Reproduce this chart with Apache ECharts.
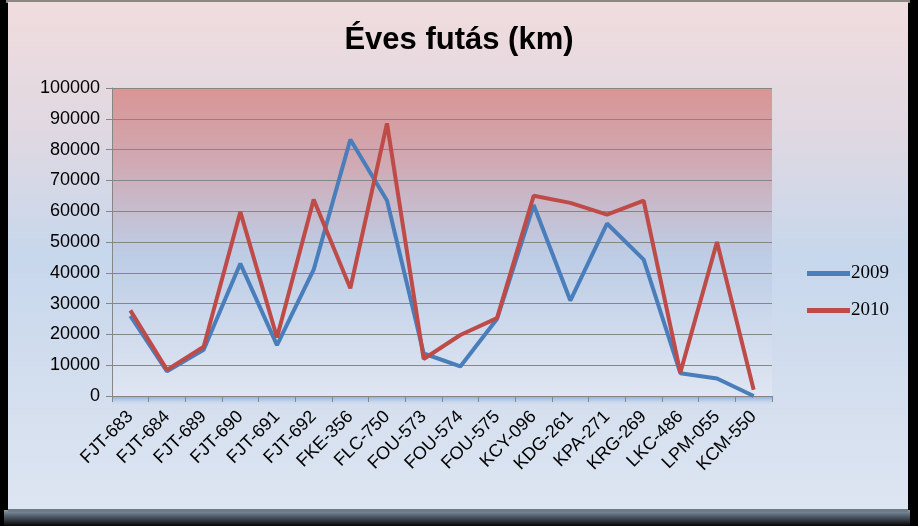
<!DOCTYPE html>
<html><head><meta charset="utf-8">
<script src="https://cdn.jsdelivr.net/npm/echarts@6/dist/echarts.min.js"></script>
<style>html,body{margin:0;padding:0;background:#000;}#c{width:918px;height:526px;}</style>
</head><body><div id="c"></div>
<script>
const categories = ['FJT-683','FJT-684','FJT-689','FJT-690','FJT-691','FJT-692','FKE-356','FLC-750','FOU-573','FOU-574','FOU-575','KCY-096','KDG-261','KPA-271','KRG-269','LKC-486','LPM-055','KCM-550'];
const values2009 = [26000, 8000, 15000, 43000, 16500, 41000, 83300, 63500, 13800, 9600, 25000, 62000, 31000, 56000, 44300, 7400, 5700, 0];
const values2010 = [27800, 8500, 16000, 59800, 19000, 63800, 35000, 88500, 12000, 19800, 25300, 65000, 62700, 58900, 63400, 7600, 50000, 2000];
const seriesNames = ['2009', '2010'];
const yTicks = {min: 0, max: 100000, interval: 10000};

const chart = echarts.init(document.getElementById('c'), null, {renderer: 'canvas'});
const lin = (stops) => new echarts.graphic.LinearGradient(0, 0, 0, 1, stops.map(s => ({offset: s[0], color: s[1]})));

chart.setOption({
  backgroundColor: '#000',
  animation: false,
  graphic: [
    {type: 'rect', z: -10, shape: {x: 6, y: 0, width: 904, height: 3}, style: {fill: '#8c8782'}},
    {type: 'rect', z: -10, shape: {x: 4, y: 510, width: 906, height: 16}, style: {fill: lin([[0,'#8d9aa8'],[0.3,'#5d6a78'],[1,'#050505']])}},
    {type: 'rect', z: -9, shape: {x: 8, y: 2, width: 900, height: 510}, style: {fill: lin([[0,'#f0dcdd'],[0.25,'#e0d8e2'],[0.5,'#c7d7ec'],[0.75,'#d3deee'],[1,'#dde5f1']])}},
    {type: 'rect', z: -8, shape: {x: 8, y: 509, width: 900, height: 3}, style: {fill: '#6e7a86'}},
    {type: 'rect', z: -5, shape: {x: 112, y: 397, width: 660, height: 8}, style: {fill: lin([[0,'#8fb2de'],[1,'rgba(210,222,240,0.2)']])}}
  ],
  title: {
    text: 'Éves futás (km)', left: 'center', top: 20,
    textStyle: {fontFamily: 'Liberation Sans Narrow, Liberation Sans', fontWeight: 'bold', fontSize: 31, color: '#000'}
  },
  legend: {
    orient: 'vertical', left: 802, top: 259, itemGap: 18, itemWidth: 43, itemHeight: 5, icon: 'rect',
    data: seriesNames,
    textStyle: {fontFamily: 'Liberation Serif', fontSize: 19, color: '#000', padding: [0,0,0,-4]}
  },
  grid: {
    left: 112, right: 146, top: 88, bottom: 130, show: true, borderWidth: 0,
    backgroundColor: lin([[0,'#d99594'],[0.25,'#d0aab4'],[0.45,'#c3c3d8'],[0.55,'#bdcde6'],[1,'#dfe6f2']])
  },
  xAxis: {
    type: 'category', data: categories, boundaryGap: true,
    axisLine: {lineStyle: {color: '#868686', width: 1}},
    axisTick: {show: true, length: 6, lineStyle: {color: '#868686'}},
    axisLabel: {rotate: 45, margin: 18, interval: 0, fontFamily: 'Liberation Sans', fontSize: 18, color: '#000'},
    splitLine: {show: false}
  },
  yAxis: {
    type: 'value', min: yTicks.min, max: yTicks.max, interval: yTicks.interval,
    axisLine: {show: true, lineStyle: {color: '#868686'}},
    axisTick: {show: true, length: 6, lineStyle: {color: '#868686'}},
    axisLabel: {margin: 12, fontFamily: 'Liberation Sans', fontSize: 18, color: '#000', formatter: v => String(v)},
    splitLine: {lineStyle: {color: '#868686', width: 1}}
  },
  series: [
    {name: seriesNames[0], type: 'line', data: values2009, symbol: 'none', lineStyle: {width: 4, color: '#4a7ebb'}, itemStyle: {color: '#4a7ebb'}},
    {name: seriesNames[1], type: 'line', data: values2010, symbol: 'none', lineStyle: {width: 4, color: '#be4b48'}, itemStyle: {color: '#be4b48'}}
  ]
});
</script></body></html>
